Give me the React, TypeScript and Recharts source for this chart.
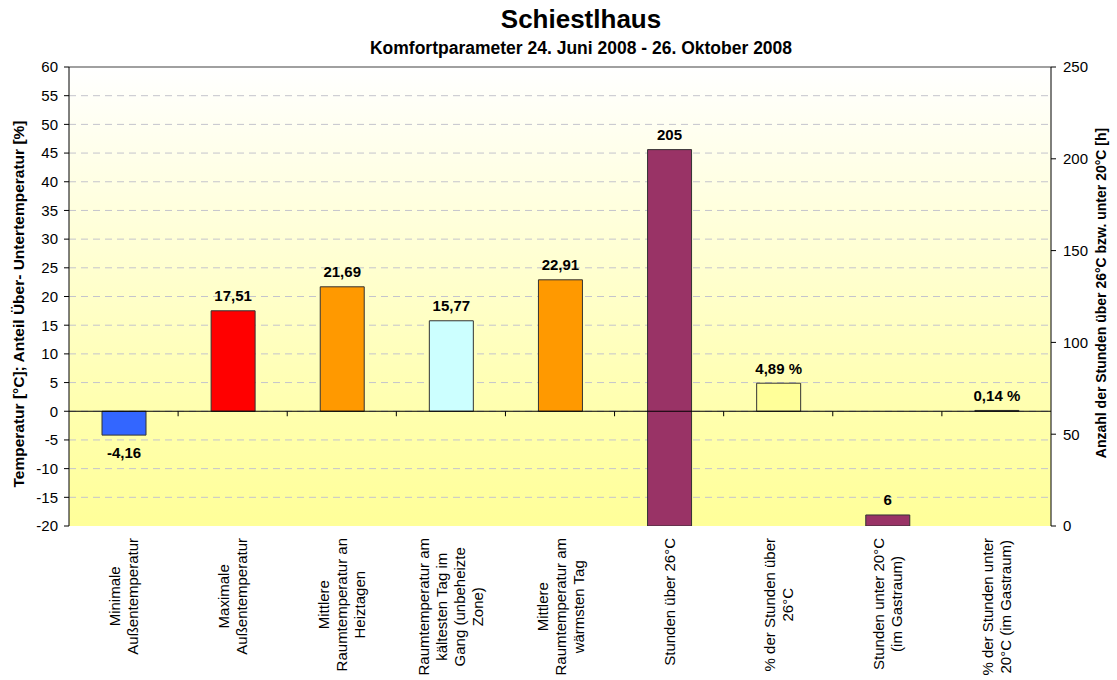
import React from 'react'
import {
  BarChart, Bar, XAxis, YAxis, CartesianGrid, Cell, LabelList, ReferenceLine
} from 'recharts'

const categories = [
  'Minimale\nAußentemperatur',
  'Maximale\nAußentemperatur',
  'Mittlere\nRaumtemperatur an\nHeiztagen',
  'Raumtemperatur am\nkältesten Tag im\nGang (unbeheizte\nZone)',
  'Mittlere\nRaumtemperatur am\nwärmsten Tag',
  'Stunden über 26°C',
  '% der Stunden über\n26°C',
  'Stunden unter 20°C\n(im Gastraum)',
  '% der Stunden unter\n20°C (im Gastraum)',
]

// left axis: °C or %
const temperatureValues = [-4.16, 17.51, 21.69, 15.77, 22.91, null, 4.89, null, 0.14]
// right axis: hours
const hoursValues = [null, null, null, null, null, 205, null, 6, null]
const valueUnits = ['', '', '', '', '', '', ' %', '', ' %']

const leftTicks = [-20, -15, -10, -5, 0, 5, 10, 15, 20, 25, 30, 35, 40, 45, 50, 55, 60]
const rightTicks = [0, 50, 100, 150, 200, 250]
const gridValues = leftTicks.filter(t => t > -20 && t < 60)

const barColors = ['#3366FF', '#FF0000', '#FF9900', '#CCFFFF', '#FF9900', '#993366', '#FFFF99', '#993366', '#FFFF99']

const FONT = '"Liberation Sans", Arial, Helvetica, sans-serif'

const fmt = (v: number | null, unit: string) =>
  v == null ? null : String(v).replace('.', ',') + unit

const data = categories.map((name, i) => ({
  name,
  temp: temperatureValues[i],
  hours: hoursValues[i],
  tempLabel: fmt(temperatureValues[i], valueUnits[i]),
  hoursLabel: fmt(hoursValues[i], valueUnits[i]),
}))

const ctx = typeof document !== 'undefined' ? document.createElement('canvas').getContext('2d') : null
const textWidth = (s: string) => {
  if (!ctx) return s.length * 8
  ctx.font = `15px ${FONT}`
  return ctx.measureText(s).width
}

const CategoryTick = (props: any) => {
  const { x, y, payload } = props
  const lines = String(payload.value).split('\n')
  const maxW = Math.max(...lines.map(textWidth))
  return (
    <g transform={`translate(${x},${y}) rotate(-90)`}>
      {lines.map((line, i) => (
        <text
          key={i}
          x={-maxW / 2}
          y={(i - (lines.length - 1) / 2) * 18}
          textAnchor="middle"
          dominantBaseline="central"
          fontSize={15}
          fontFamily={FONT}
          fill="#000"
        >
          {line}
        </text>
      ))}
    </g>
  )
}

const ValueLabel = (props: any) => {
  const { x, y, width, height, value } = props
  if (value == null || value === '') return null
  const top = Math.min(y, y + height)
  const bottom = Math.max(y, y + height)
  const neg = String(value).startsWith('-')
  return (
    <text
      x={x + width / 2}
      y={neg ? bottom + 17 : top - 15}
      textAnchor="middle"
      dominantBaseline="central"
      fontSize={15}
      fontWeight="bold"
      fontFamily={FONT}
      fill="#000"
    >
      {value}
    </text>
  )
}

// zero line with the category separators hanging below it
const ZeroAxis = (props: any) => {
  const { x1, y1, x2 } = props
  const step = (x2 - x1) / categories.length
  return (
    <g>
      <line x1={x1} y1={y1} x2={x2} y2={y1} stroke="#000" strokeWidth={1} />
      {categories.slice(1).map((_, i) => (
        <line key={i} x1={x1 + step * (i + 1)} y1={y1} x2={x1 + step * (i + 1)} y2={y1 + 5} stroke="#000" strokeWidth={1} />
      ))}
    </g>
  )
}

const tickStyle = { fontSize: 15, fontFamily: FONT, fill: '#000' }

export default function App() {
  return (
    <div style={{ position: 'absolute', left: 0, top: 0, width: 1117, height: 680, background: '#fff', fontFamily: FONT }}>
      <div style={{ position: 'absolute', left: 581, top: 19, transform: 'translate(-50%,-50%)', fontSize: 26, fontWeight: 'bold', whiteSpace: 'nowrap' }}>
        Schiestlhaus
      </div>
      <div style={{ position: 'absolute', left: 581, top: 48, transform: 'translate(-50%,-50%)', fontSize: 17.5, fontWeight: 'bold', whiteSpace: 'nowrap' }}>
        Komfortparameter 24. Juni 2008 - 26. Oktober 2008
      </div>
      <div style={{ position: 'absolute', left: 19, top: 304, transform: 'translate(-50%,-50%) rotate(-90deg)', fontSize: 15.5, fontWeight: 'bold', whiteSpace: 'nowrap' }}>
        Temperatur [°C]; Anteil Über- Untertemperatur [%]
      </div>
      <div style={{ position: 'absolute', left: 1101, top: 293, transform: 'translate(-50%,-50%) rotate(-90deg)', fontSize: 14, fontWeight: 'bold', whiteSpace: 'nowrap' }}>
        Anzahl der Stunden über 26°C bzw. unter 20°C [h]
      </div>
      <BarChart
        width={1117}
        height={680}
        data={data}
        margin={{ top: 67, right: 0, bottom: 0, left: 0 }}
        style={{ position: 'absolute', left: 0, top: 0 }}
      >
        <defs>
          <linearGradient id="plotBg" x1="0" y1="0" x2="0" y2="1">
            <stop offset="0%" stopColor="#FFFFFF" />
            <stop offset="75%" stopColor="#FFFFAE" />
            <stop offset="100%" stopColor="#FFFF99" />
          </linearGradient>
        </defs>
        <CartesianGrid
          xAxisId="a"
          yAxisId="left"
          vertical={false}
          horizontalValues={gridValues}
          stroke="#C4C4CC"
          strokeDasharray="7 5"
          fill="url(#plotBg)"
          fillOpacity={1}
        />
        <XAxis
          xAxisId="a"
          dataKey="name"
          interval={0}
          height={154}
          axisLine={false}
          tickLine={false}
          tickSize={0}
          tickMargin={12}
          tick={<CategoryTick />}
        />
        <XAxis xAxisId="b" dataKey="name" hide />
        <YAxis
          yAxisId="left"
          domain={[-20, 60]}
          ticks={leftTicks}
          interval={0}
          width={69}
          tick={tickStyle}
          axisLine={{ stroke: '#000' }}
          tickLine={{ stroke: '#000' }}
          tickSize={5}
          tickMargin={6}
          allowDataOverflow
        />
        <YAxis
          yAxisId="right"
          orientation="right"
          domain={[0, 250]}
          ticks={rightTicks}
          interval={0}
          width={66}
          tick={tickStyle}
          axisLine={{ stroke: '#000' }}
          tickLine={{ stroke: '#000' }}
          tickSize={5}
          tickMargin={7}
          allowDataOverflow
        />
        <ReferenceLine xAxisId="a" yAxisId="left" y={60} stroke="#808080" strokeWidth={1.5} />
        <Bar xAxisId="a" yAxisId="left" dataKey="temp" barSize={44} stroke="#333" strokeWidth={1} isAnimationActive={false}>
          {data.map((_, i) => (
            <Cell key={i} fill={barColors[i]} />
          ))}
          <LabelList dataKey="tempLabel" content={<ValueLabel />} />
        </Bar>
        <Bar xAxisId="b" yAxisId="right" dataKey="hours" barSize={44} stroke="#333" strokeWidth={1} isAnimationActive={false}>
          {data.map((_, i) => (
            <Cell key={i} fill={barColors[i]} />
          ))}
          <LabelList dataKey="hoursLabel" content={<ValueLabel />} />
        </Bar>
        <ReferenceLine xAxisId="a" yAxisId="left" y={0} shape={<ZeroAxis />} />
      </BarChart>
    </div>
  )
}
